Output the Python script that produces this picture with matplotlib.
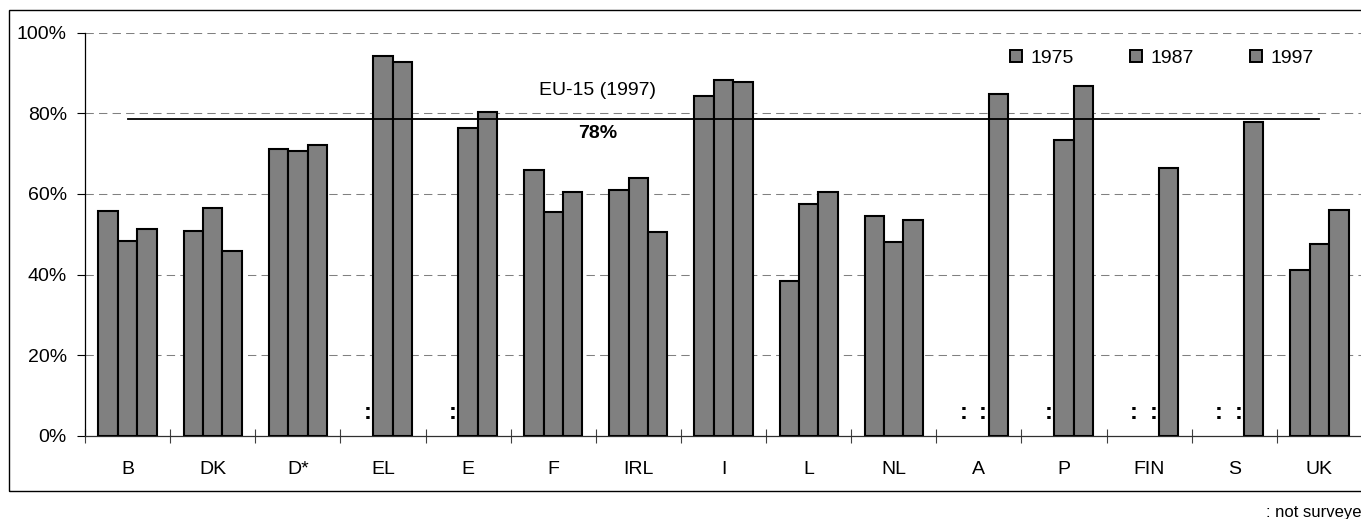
import numpy as np
import matplotlib
matplotlib.use("Agg")
import matplotlib.pyplot as plt
from matplotlib.patches import Rectangle, Patch
from matplotlib.ticker import FuncFormatter

plt.rcParams['font.family'] = ['Liberation Sans', 'DejaVu Sans']

countries = ["B", "DK", "D*", "EL", "E", "F", "IRL", "I", "L", "NL", "A", "P", "FIN", "S", "UK"]
series_names = ["1975", "1987", "1997"]
nan = np.nan
v1975 = [55.8, 50.9, 71.2, nan, nan, 65.8, 61.0, 84.2, 38.5, 54.4, nan, nan, nan, nan, 41.1]
v1987 = [48.4, 56.4, 70.7, 94.1, 76.3, 55.5, 63.9, 88.2, 57.5, 48.1, nan, 73.3, nan, nan, 47.5]
v1997 = [51.4, 45.9, 72.2, 92.7, 80.2, 60.4, 50.5, 87.8, 60.4, 53.5, 84.7, 86.7, 66.3, 77.7, 55.9]
eu_value = 78.5
eu_label = "EU-15 (1997)"
eu_pct_label = "78%"
yticks = [0, 20, 40, 60, 80, 100]

W, H = 1361, 519
fig = plt.figure(figsize=(W / 100, H / 100), dpi=100)
ax = fig.add_axes([85 / W, (H - 436) / H, (1362 - 85) / W, (436 - 32.5) / H])

x = np.arange(len(countries))
bw = 0.228
offsets = [-bw, 0, bw]
bar_color = "#808080"

for vals, off, name in zip([v1975, v1987, v1997], offsets, series_names):
    vals = np.array(vals, dtype=float)
    mask = ~np.isnan(vals)
    ax.bar(x[mask] + off, vals[mask], width=bw, color=bar_color,
           edgecolor="black", linewidth=1.5, zorder=3, label=name)
    for xi in x[~mask]:
        ax.text(xi + off + 0.05, 5.9, ":", ha="center", va="center",
                fontsize=17, fontweight="bold", zorder=4)

ax.set_xlim(-0.5, len(countries) - 0.5)
ax.set_ylim(0, 100)

# gridlines
for yv in yticks[1:]:
    ax.axhline(yv, color="#808080", lw=0.75, linestyle=(0, (8, 5)), zorder=1)

# EU line
ax.plot([x[0], x[-1]], [eu_value, eu_value], color="black", lw=1.3, zorder=4)
ax.text(5.52, 85.6, eu_label, ha="center", va="center", fontsize=14, zorder=5)
ax.text(5.52, 75.0, eu_pct_label, ha="center", va="center", fontsize=14,
        fontweight="bold", zorder=5)

ax.set_yticks(yticks)
ax.yaxis.set_major_formatter(FuncFormatter(lambda v, p: f"{int(v)}%"))
ax.set_xticks(np.arange(len(countries) + 1) - 0.5, minor=False)
ax.set_xticklabels([])
ax.set_xticks(x, minor=True)
ax.set_xticklabels(countries, minor=True)

ax.tick_params(axis="y", direction="out", length=6, width=0.8, labelsize=14, pad=7)
ax.tick_params(axis="x", which="major", direction="inout", length=9.5, width=0.8, color="#404040")
ax.tick_params(axis="x", which="minor", length=0, labelsize=14, pad=18)

for s in ["top", "right"]:
    ax.spines[s].set_visible(False)
ax.spines["left"].set_linewidth(0.9)
ax.spines["bottom"].set_linewidth(0.9)
ax.spines["bottom"].set_color("#303030")

handles = [Patch(facecolor=bar_color, edgecolor="black", linewidth=1.4) for _ in series_names]
leg = fig.legend(handles, series_names, loc="upper left",
                 bbox_to_anchor=(1010 / W, 1 - 50 / H), ncol=3, frameon=False,
                 fontsize=14, handlelength=0.6, handleheight=0.6,
                 handletextpad=0.45, columnspacing=2.9, borderpad=0, borderaxespad=0)

# outer frame
fig.add_artist(Rectangle((9 / W, (H - 491) / H), 1.2, (491 - 10) / H,
                         transform=fig.transFigure, fill=False, lw=1.0,
                         edgecolor="black"))

fig.text(1266 / W, 1 - 512 / H, ": not surveyed", ha="left", va="center", fontsize=12)

fig.savefig("out.png", dpi=100)
